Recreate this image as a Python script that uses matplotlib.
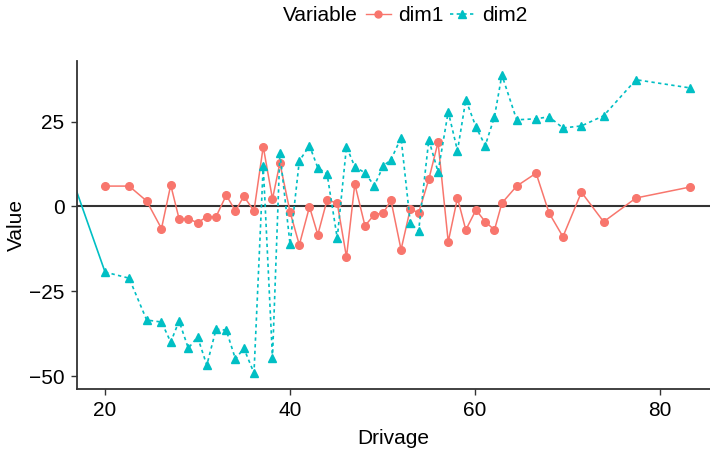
import matplotlib
matplotlib.use("Agg")
import matplotlib.pyplot as plt
from matplotlib.lines import Line2D

plt.rcParams["font.family"] = ["Liberation Sans", "DejaVu Sans"]

drivage = [20, 22.6, 24.5, 26.1, 27.1, 28.0, 29.0, 30.0, 31.0, 32.0, 33.1, 34.1,
           35.0, 36.1, 37.1, 38.1, 38.9, 40.0, 41.0, 42.1, 43.0, 44.0, 45.1, 46.1,
           47.0, 48.1, 49.1, 50.1, 50.9, 52.0, 53.0, 53.9, 55.0, 56.0, 57.1, 58.1,
           59.0, 60.1, 61.1, 62.1, 62.9, 64.5, 66.6, 68.0, 69.5, 71.5, 73.9, 77.4,
           83.2]
dim1 = [6.0, 6.0, 1.6, -6.5, 6.3, -3.6, -3.6, -4.8, -3.0, -3.0, 3.3, -1.3,
        3.0, -1.3, 17.6, 2.2, 12.8, -1.6, -11.3, -0.1, -8.3, 1.9, 1.0, -14.9,
        6.6, -5.7, -2.4, -1.9, 1.9, -12.7, -0.7, -1.9, 8.0, 18.9, -10.4, 2.5,
        -6.9, -1.0, -4.5, -6.9, 1.0, 6.0, 9.8, -1.9, -8.9, 4.2, -4.5, 2.5, 5.7]
dim2 = [-19.3, -21.1, -33.4, -34.0, -39.9, -33.7, -41.7, -38.4, -46.7, -36.1,
        -36.4, -44.9, -41.7, -49.0, 12.0, -44.6, 15.8, -11.1, 13.4, 17.9, 11.4,
        9.6, -9.3, 17.6, 11.7, 9.9, 6.1, 12.0, 13.7, 20.2, -4.9, -7.2, 19.6,
        10.2, 27.9, 16.4, 31.4, 23.4, 17.9, 26.4, 38.7, 25.5, 25.8, 26.4, 23.1,
        23.7, 26.7, 37.3, 34.9]
# leading dim2 segment that comes in from outside the x range
lead_x = [16.0, 20]
lead_y = [11.6, -19.3]

red = "#F8766D"
cyan = "#00BFC4"
dark = "#333333"

fig = plt.figure(figsize=(7.10, 4.53), dpi=100)
ax = fig.add_axes([0.1085, 0.1413, 0.8915, 0.724])

ax.axhline(0, color=dark, lw=1.5, zorder=1)
ax.plot(lead_x, lead_y, color=cyan, lw=1.2, zorder=2)
ax.plot(drivage, dim1, color=red, lw=1.1, marker="o", ms=5.5, zorder=3)
ax.plot(drivage, dim2, color=cyan, lw=1.2, ls=(0, (2, 2)), marker="^", ms=6, zorder=3)

ax.set_xlim(16.97, 85.4)
ax.set_ylim(-53.7, 42.8)
ax.set_xticks([20, 40, 60, 80])
ax.set_yticks([-50, -25, 0, 25])
ax.set_yticklabels(["\u221250", "\u221225", "0", "25"])

for s in ["top", "right"]:
    ax.spines[s].set_visible(False)
for s in ["left", "bottom"]:
    ax.spines[s].set_color(dark)
    ax.spines[s].set_linewidth(1.3)
ax.tick_params(colors=dark, width=1.0, length=4, labelsize=15, pad=5,
               labelcolor="black")
ax.set_xlabel("Drivage", fontsize=15, labelpad=6)
ax.set_ylabel("Value", fontsize=15, labelpad=2)

fig.text(0.398, 0.966, "Variable", fontsize=15, ha="left", va="center")
handles = [Line2D([], [], color=red, lw=1.0, marker="o", ms=5),
           Line2D([], [], color=cyan, lw=1.2, ls=(0, (2, 2)), marker="^", ms=5.5)]
fig.legend(handles, ["dim1", "dim2"], loc="center left", bbox_to_anchor=(0.515, 0.966),
           ncol=2, frameon=False, fontsize=15, handlelength=1.2, handletextpad=0.35,
           columnspacing=0.3, borderaxespad=0, borderpad=0)

fig.savefig("out.png", dpi=100)
